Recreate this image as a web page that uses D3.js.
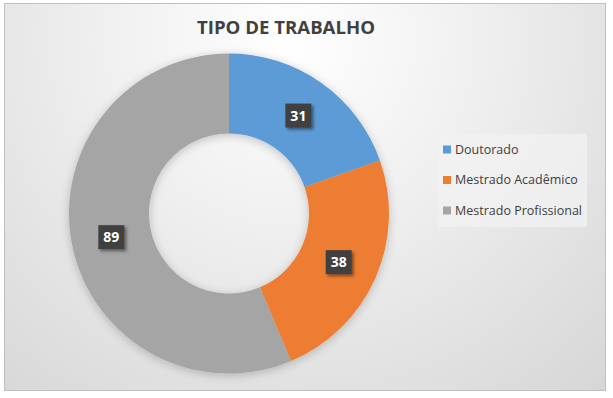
<!DOCTYPE html>
<html>
<head>
<meta charset="utf-8">
<script src="https://cdn.jsdelivr.net/npm/d3@7"></script>
<style>
  html, body { margin: 0; padding: 0; background: #ffffff; }
  svg { display: block; }
</style>
</head>
<body>
<svg id="chart" width="613" height="398"></svg>
<script>
// Tipo de trabalho: counts per category
const categories = ["Doutorado", "Mestrado Acadêmico", "Mestrado Profissional"];
const values = [31, 38, 89];
const colors = ["#5B9BD5", "#ED7D31", "#A5A5A5"];
const title = "TIPO DE TRABALHO";

const data = categories.map((c, i) => ({ category: c, value: values[i] }));

const svg = d3.select("#chart");
const defs = svg.append("defs");

// Chart area background: soft radial gradient
const bg = defs.append("radialGradient")
  .attr("id", "bgGrad")
  .attr("gradientUnits", "userSpaceOnUse")
  .attr("cx", 290).attr("cy", 40).attr("r", 520);
bg.append("stop").attr("offset", "0%").attr("stop-color", "#ffffff");
bg.append("stop").attr("offset", "35%").attr("stop-color", "#f0f0f0");
bg.append("stop").attr("offset", "100%").attr("stop-color", "#d2d2d2");

// Soft shadow under the ring
const ringShadow = defs.append("filter").attr("id", "ringShadow")
  .attr("x", "-20%").attr("y", "-20%").attr("width", "140%").attr("height", "140%");
ringShadow.append("feDropShadow")
  .attr("dx", 0).attr("dy", 2).attr("stdDeviation", 5)
  .attr("flood-color", "#000").attr("flood-opacity", 0.22);

// Shadow for the label boxes
const labelShadow = defs.append("filter").attr("id", "labelShadow")
  .attr("x", "-40%").attr("y", "-40%").attr("width", "180%").attr("height", "180%");
labelShadow.append("feDropShadow")
  .attr("dx", 2).attr("dy", 2).attr("stdDeviation", 1.6)
  .attr("flood-color", "#000").attr("flood-opacity", 0.45);

// Frame
svg.append("rect")
  .attr("x", 4.5).attr("y", 3.5)
  .attr("width", 601).attr("height", 387)
  .attr("fill", "url(#bgGrad)")
  .attr("stroke", "#bfbfbf").attr("stroke-width", 1);

// Title
svg.append("text")
  .attr("x", 286).attr("y", 34)
  .attr("text-anchor", "middle")
  .attr("font-family", "'Open Sans', 'Liberation Sans', sans-serif")
  .attr("font-weight", "bold")
  .attr("font-size", 18)
  .attr("fill", "#404040")
  .attr("textLength", 178)
  .attr("lengthAdjust", "spacingAndGlyphs")
  .text(title);

// Donut
const cx = 229, cy = 213.5;
const outerR = 160, innerR = 80;

const pie = d3.pie().value(d => d.value).sort(null);
const arc = d3.arc().innerRadius(innerR).outerRadius(outerR);
const labelArc = d3.arc().innerRadius((innerR + outerR) / 2).outerRadius((innerR + outerR) / 2);

const g = svg.append("g").attr("transform", `translate(${cx},${cy})`);
const arcs = pie(data);

g.append("g").attr("filter", "url(#ringShadow)")
  .selectAll("path")
  .data(arcs)
  .join("path")
  .attr("d", arc)
  .attr("fill", (d, i) => colors[i]);

// Value labels in dark boxes
const labels = g.selectAll("g.lbl")
  .data(arcs)
  .join("g")
  .attr("class", "lbl")
  .attr("transform", d => `translate(${labelArc.centroid(d)})`);

labels.append("rect")
  .attr("x", -13).attr("y", -12)
  .attr("width", 26).attr("height", 24)
  .attr("fill", "#404040")
  .attr("filter", "url(#labelShadow)");

labels.append("text")
  .attr("text-anchor", "middle")
  .attr("dy", "0.36em")
  .attr("font-family", "'Open Sans', 'Liberation Sans', sans-serif")
  .attr("font-weight", "bold")
  .attr("font-size", 14)
  .attr("fill", "#ffffff")
  .text(d => d.data.value);

// Legend
const legend = svg.append("g").attr("transform", "translate(438,134)");
legend.append("rect")
  .attr("width", 149).attr("height", 93)
  .attr("fill", "#f2f2f2").attr("opacity", 0.75);

const items = legend.selectAll("g.item")
  .data(categories)
  .join("g")
  .attr("class", "item")
  .attr("transform", (d, i) => `translate(5,${15.5 + i * 30.5})`);

items.append("rect")
  .attr("x", 0).attr("y", -4)
  .attr("width", 8).attr("height", 8)
  .attr("fill", (d, i) => colors[i]);

items.append("text")
  .attr("x", 12).attr("y", 0)
  .attr("dy", "0.35em")
  .attr("font-family", "'Open Sans', 'Liberation Sans', sans-serif")
  .attr("font-size", 12.5)
  .attr("fill", "#404040")
  .text(d => d);
</script>
</body>
</html>
